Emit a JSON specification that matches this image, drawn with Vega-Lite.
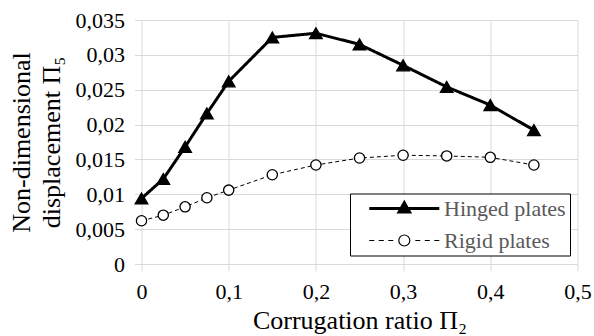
{
  "$schema": "https://vega.github.io/schema/vega-lite/v6.json",
  "width": 436,
  "height": 244,
  "autosize": {"type": "none"},
  "padding": {"left": 141.5, "top": 20, "right": 16.5, "bottom": 72},
  "background": "white",
  "config": {"view": {"stroke": null}, "font": "Liberation Serif"},
  "data": {
    "values": [
      {"ratio": 0, "disp": 0.0094, "series": "Hinged plates"},
      {"ratio": 0.025, "disp": 0.0122, "series": "Hinged plates"},
      {"ratio": 0.05, "disp": 0.0168, "series": "Hinged plates"},
      {"ratio": 0.075, "disp": 0.0216, "series": "Hinged plates"},
      {"ratio": 0.1, "disp": 0.0262, "series": "Hinged plates"},
      {"ratio": 0.15, "disp": 0.0325, "series": "Hinged plates"},
      {"ratio": 0.2, "disp": 0.0331, "series": "Hinged plates"},
      {"ratio": 0.25, "disp": 0.0315, "series": "Hinged plates"},
      {"ratio": 0.3, "disp": 0.0285, "series": "Hinged plates"},
      {"ratio": 0.35, "disp": 0.0254, "series": "Hinged plates"},
      {"ratio": 0.4, "disp": 0.0228, "series": "Hinged plates"},
      {"ratio": 0.45, "disp": 0.0192, "series": "Hinged plates"},
      {"ratio": 0, "disp": 0.0062, "series": "Rigid plates"},
      {"ratio": 0.025, "disp": 0.007, "series": "Rigid plates"},
      {"ratio": 0.05, "disp": 0.0082, "series": "Rigid plates"},
      {"ratio": 0.075, "disp": 0.0095, "series": "Rigid plates"},
      {"ratio": 0.1, "disp": 0.0106, "series": "Rigid plates"},
      {"ratio": 0.15, "disp": 0.0128, "series": "Rigid plates"},
      {"ratio": 0.2, "disp": 0.0142, "series": "Rigid plates"},
      {"ratio": 0.25, "disp": 0.0152, "series": "Rigid plates"},
      {"ratio": 0.3, "disp": 0.0156, "series": "Rigid plates"},
      {"ratio": 0.35, "disp": 0.0155, "series": "Rigid plates"},
      {"ratio": 0.4, "disp": 0.0153, "series": "Rigid plates"},
      {"ratio": 0.45, "disp": 0.0142, "series": "Rigid plates"}
    ]
  },
  "encoding": {
    "x": {
      "field": "ratio",
      "type": "quantitative",
      "scale": {"domain": [0, 0.5], "nice": false, "zero": false},
      "axis": {
        "values": [0, 0.1, 0.2, 0.3, 0.4, 0.5],
        "labelExpr": "replace(datum.value + '', '.', ',')",
        "title": "Corrugation ratio Π₂",
        "titleFont": "Liberation Serif",
        "titleFontSize": 26,
        "titleFontWeight": "normal",
        "titleColor": "black",
        "titlePadding": 5,
        "labelFont": "Liberation Serif",
        "labelFontSize": 22,
        "labelColor": "black",
        "labelPadding": 10,
        "labelFlush": false,
        "domain": false,
        "ticks": true,
        "tickColor": "#d9d9d9",
        "tickSize": 7,
        "grid": true,
        "gridColor": "#d9d9d9",
        "gridWidth": 1
      }
    },
    "y": {
      "field": "disp",
      "type": "quantitative",
      "scale": {"domain": [0, 0.035], "nice": false, "zero": false},
      "axis": {
        "values": [0, 0.005, 0.01, 0.015, 0.02, 0.025, 0.03, 0.035],
        "labelExpr": "replace(datum.value + '', '.', ',')",
        "title": ["Non-dimensional", "displacement Π₅"],
        "titleFont": "Liberation Serif",
        "titleFontSize": 26,
        "titleFontWeight": "normal",
        "titleColor": "black",
        "titlePadding": 11,
        "titleLineHeight": 30,
        "labelFont": "Liberation Serif",
        "labelFontSize": 22,
        "labelColor": "black",
        "labelPadding": 10,
        "labelFlush": false,
        "domain": false,
        "ticks": true,
        "tickColor": "#d9d9d9",
        "tickSize": 7,
        "grid": true,
        "gridColor": "#d9d9d9",
        "gridWidth": 1
      }
    }
  },
  "layer": [
    {
      "mark": {"type": "line", "color": "black"},
      "encoding": {
        "detail": {"field": "series", "type": "nominal"},
        "strokeWidth": {
          "condition": {"test": "datum.series === 'Hinged plates'", "value": 3},
          "value": 1
        },
        "strokeDash": {
          "condition": {"test": "datum.series === 'Hinged plates'", "value": [1, 0]},
          "value": [4, 3]
        }
      }
    },
    {
      "mark": {"type": "point", "filled": true, "stroke": "black", "strokeWidth": 1.3, "opacity": 1},
      "encoding": {
        "size": {
          "condition": {"test": "datum.series === 'Hinged plates'", "value": 160},
          "value": 105
        },
        "fill": {
          "condition": {"test": "datum.series === 'Hinged plates'", "value": "black"},
          "value": "white"
        },
        "shape": {
          "condition": {"test": "datum.series === 'Hinged plates'", "value": "triangle-up"},
          "value": "circle"
        }
      }
    },
    {
      "mark": {"type": "point", "filled": true, "stroke": "black", "opacity": 0},
      "encoding": {
        "shape": {
          "field": "series",
          "type": "nominal",
          "scale": {
            "domain": ["Hinged plates", "Rigid plates"],
            "range": [
              "M0.86,0H14.86M7.86,-1.15L8.91,0.7L6.81,0.7Z",
              "M0.86,0H1.86M2.76,0H3.76M4.66,0H5.66M10.06,0H11.06M11.96,0H12.96M13.86,0H14.86M8.96,0A1.1,1.1,0,1,1,6.76,0A1.1,1.1,0,1,1,8.96,0Z"
            ]
          },
          "legend": {
            "title": null,
            "orient": "none",
            "legendX": 208.5,
            "legendY": 173.5,
            "padding": 4,
            "strokeColor": "black",
            "fillColor": "white",
            "symbolSize": 100,
            "symbolOpacity": 1,
            "labelOffset": 68,
            "labelFont": "Liberation Serif",
            "labelFontSize": 22,
            "labelColor": "#595959",
            "labelExpr": "datum.label + '\u00a0\u00a0\u00a0'",
            "rowPadding": 10
          }
        },
        "fill": {
          "field": "series",
          "type": "nominal",
          "scale": {"domain": ["Hinged plates", "Rigid plates"], "range": ["black", "white"]},
          "legend": {
            "title": null,
            "orient": "none",
            "legendX": 208.5,
            "legendY": 173.5,
            "padding": 4,
            "strokeColor": "black",
            "fillColor": "white",
            "symbolSize": 100,
            "symbolOpacity": 1,
            "labelOffset": 68,
            "labelFont": "Liberation Serif",
            "labelFontSize": 22,
            "labelColor": "#595959",
            "labelExpr": "datum.label + '\u00a0\u00a0\u00a0'",
            "rowPadding": 10
          }
        },
        "strokeWidth": {
          "field": "series",
          "type": "nominal",
          "scale": {"domain": ["Hinged plates", "Rigid plates"], "range": [3, 1.2]},
          "legend": {
            "title": null,
            "orient": "none",
            "legendX": 208.5,
            "legendY": 173.5,
            "padding": 4,
            "strokeColor": "black",
            "fillColor": "white",
            "symbolSize": 100,
            "symbolOpacity": 1,
            "labelOffset": 68,
            "labelFont": "Liberation Serif",
            "labelFontSize": 22,
            "labelColor": "#595959",
            "labelExpr": "datum.label + '\u00a0\u00a0\u00a0'",
            "rowPadding": 10
          }
        }
      }
    }
  ]
}
